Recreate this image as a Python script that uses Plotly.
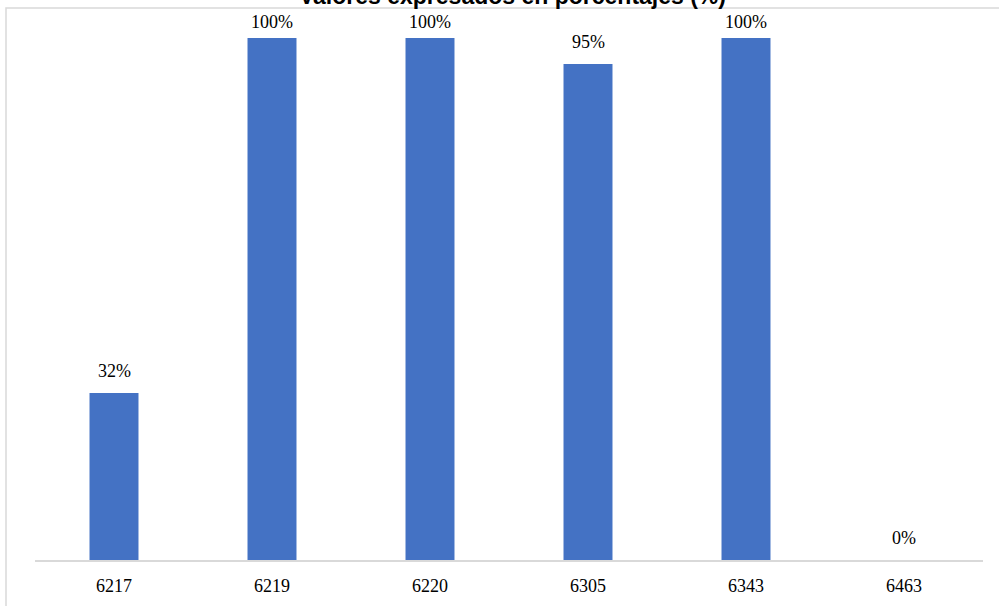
import plotly.graph_objects as go

categories = ["6217", "6219", "6220", "6305", "6343", "6463"]
values = [32, 100, 100, 95, 100, 0]
labels = [f"{v}%" for v in values]

W, H = 999, 606
L, R, T, B = 35, 16, 10, 46
ph = H - T - B

fig = go.Figure(go.Bar(
    x=categories, y=values,
    marker=dict(color="#4472C4", line=dict(width=0)),
    width=0.31, hoverinfo="skip",
))

annotations = [dict(text="<b>Valores expresados en porcentajes (%)</b>",
                    xref="paper", yref="paper", x=(512 - L) / (W - L - R),
                    y=1 + (T + 4) / ph, xanchor="center", yanchor="middle",
                    showarrow=False,
                    font=dict(family="Liberation Sans", size=23, color="#000"))]
for i, (v, t) in enumerate(zip(values, labels)):
    annotations.append(dict(x=i, y=v, xref="x", yref="y", text=t, showarrow=False,
                            yanchor="middle", yshift=16 if v >= 100 else 22,
                            font=dict(family="Liberation Serif", size=18, color="#000")))

fig.update_layout(
    width=W, height=H,
    margin=dict(l=L, r=R, t=T, b=B),
    plot_bgcolor="white", paper_bgcolor="white",
    showlegend=False,
    xaxis=dict(type="category", showline=True, linecolor="#d9d9d9", linewidth=2,
               ticks="", ticklabelstandoff=8, range=[-0.5, len(categories) - 0.5],
               tickfont=dict(family="Liberation Serif", size=18, color="#000"),
               showgrid=False),
    yaxis=dict(range=[0, 100 * (H - B - T) / 522], visible=False, showgrid=False),
    shapes=[dict(type="rect", xref="paper", yref="paper",
                 x0=(6 - L) / (W - L - R), x1=(1010 - L) / (W - L - R),
                 y0=-(620 - (H - B)) / ph, y1=1 + 2 / ph,
                 line=dict(color="#d9d9d9", width=1.5), layer="below")],
    annotations=annotations,
)

fig.write_html("out.html", config={"displayModeBar": False},
               post_script="document.body.style.margin='0';document.body.style.overflow='hidden';")
